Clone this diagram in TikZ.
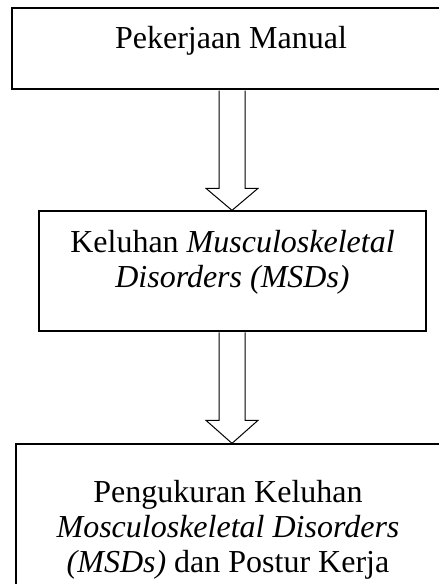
\documentclass[tikz,border=0pt]{standalone}
\usepackage{fontspec}
\setmainfont{Liberation Serif}
\usetikzlibrary{calc}
\tikzset{
  flowbox/.style={draw=black, fill=none, inner sep=0pt},
  boxtext/.style={align=center, inner sep=0pt, anchor=base, font=\fontsize{32}{35}\selectfont},
  blockarrow/.style={draw=black, line width=1pt, line join=miter}
}
\begin{document}
\begin{tikzpicture}[x=1pt,y=-1pt]
\useasboundingbox (0,0) rectangle (439,584);
\clip (0,0) rectangle (439,584);
% boxes
\node[flowbox, line width=1.7pt, minimum width=438pt, minimum height=81pt] (b1) at (231,48.5) {};
\node[flowbox, line width=1.3pt, minimum width=387pt, minimum height=120pt] (b2) at (232.5,271) {};
\node[flowbox, line width=1.3pt, minimum width=424pt, minimum height=170pt] (b3) at (228,529) {};
% texts
\node[boxtext] (t1) at (231,48) {Pekerjaan Manual};
\node[boxtext] (t2) at (232.5,287) {Keluhan \textit{Musculoskeletal}\\\textit{Disorders (MSDs)}};
\node[boxtext] (t3) at (228,572) {Pengukuran Keluhan\\\textit{Mosculoskeletal Disorders}\\\textit{(MSDs)} dan Postur Kerja};
% arrows
\coordinate (ax) at (232,0);
\draw[blockarrow] ($(b1.south -| ax)+(-13,0.8)$) -- ($(b2.north -| ax)+(-13,-22)$) -- ++(-13,0) -- (b2.north -| ax) -- ++(26,-22) -- ++(-13,0) -- ($(b1.south -| ax)+(13,0.8)$);
\draw[blockarrow] ($(b2.south -| ax)+(-13,0.6)$) -- ($(b3.north -| ax)+(-13,-23)$) -- ++(-13,0) -- (b3.north -| ax) -- ++(26,-23) -- ++(-13,0) -- ($(b2.south -| ax)+(13,0.6)$);
\end{tikzpicture}
\end{document}
